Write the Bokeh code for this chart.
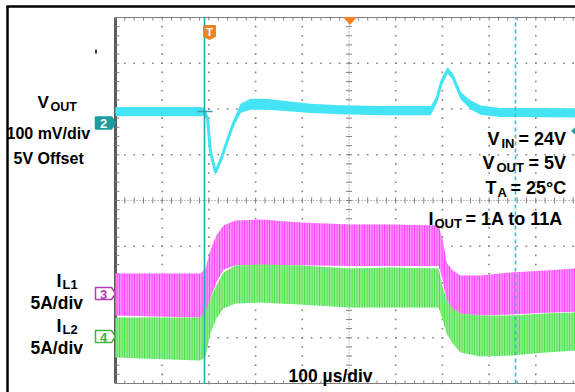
import numpy as np
from bokeh.plotting import figure
from bokeh.models import Range1d, Label
from bokeh.embed import file_html
from bokeh.resources import INLINE

# ---------------- data ----------------
# time axis: microseconds from the left edge of the screen (100 us/div)
vout_t = [0, 75, 150, 182, 190, 197, 203, 214, 225, 236, 251, 268, 289, 321, 364, 418,
          482, 567, 675, 687, 698, 711, 722, 739, 760, 782, 824, 985, 1000]
# V_OUT deviation from the 5 V offset (channel 2, 100 mV/div), mV
vout_mv = [25, 25, 25, 25, 25, 10, -60, -108, -82, -49, -5, 32, 41, 41, 37, 32,
           29, 27, 27, 49, 89, 115, 102, 60, 40, 28, 23, 22, 22]
# half width of the noise band, mV
vout_noise = [10, 10, 10, 10, 9, 7, 6, 6, 6, 6, 7, 10, 12, 12, 11, 10,
              10, 10, 10, 8, 7, 7, 7, 8, 10, 10, 10, 10, 10]

# inductor currents (5 A/div): upper / lower edge of the ripple band, A
il1_t = [0, 182, 193, 203, 216, 231, 257, 310, 396, 503, 589, 692, 700, 709, 722,
         739, 782, 846, 921, 985, 1000]
il1_hi = [2.19, 2.19, 2.73, 4.70, 6.34, 7.43, 7.98, 8.09, 7.76, 7.54, 7.54, 7.43, 6.01,
          3.39, 2.51, 1.97, 1.97, 2.30, 2.51, 2.73, 2.73]
il1_lo = [-2.40, -2.62, -2.40, -0.55, 1.20, 2.60, 3.10, 3.10, 3.10, 3.00, 3.00, 3.00,
          1.60, -0.75, -1.75, -2.20, -2.40, -2.30, -2.10, -2.00, -2.00]

il2_t = il1_t
il2_hi = [2.08, 2.08, 2.84, 4.15, 5.57, 6.99, 7.76, 7.87, 7.76, 7.43, 7.54, 7.43, 5.57,
          3.93, 3.06, 2.51, 2.30, 2.30, 2.51, 2.62, 2.62]
il2_lo = [-2.30, -2.62, -2.19, 0.33, 1.97, 3.06, 3.61, 3.72, 3.50, 3.17, 3.17, 3.17,
          1.97, 0.33, -0.77, -1.75, -2.19, -2.08, -1.75, -1.53, -1.53]

# scope settings
time_per_div = 100      # us
v_per_div = 100         # mV
i_per_div = 5           # A
n_xdiv, n_ydiv = 10, 8
trigger_t = 190.6       # us, solid cursor
cursor2_t = 856.5       # us, dashed cursor

# ---------------- layout (reference pixels) ----------------
GX0, GY0, GY1 = 115.0, 17.0, 383.0
PXDX = 46.7
PXDY = (GY1 - GY0) / n_ydiv
OFF = 0
W, H = 575, 392


def tx(X):
    return (X - GX0) / PXDX * time_per_div


def dy(Y):
    return (GY1 - Y) / PXDY


ch2_Y, ch3_Y, ch4_Y = 122.5, 293.0, 336.0
mv_px = v_per_div / PXDY
a_px = i_per_div / PXDY

p = figure(width=W, height=H, output_backend="svg", toolbar_location=None,
           x_range=Range1d(tx(OFF), tx(OFF + W)),
           y_range=Range1d(dy(OFF + H), dy(OFF)), min_border=0)
p.axis.visible = False
p.grid.visible = False
p.outline_line_color = None
p.background_fill_color = "white"
p.border_fill_color = "white"
p.extra_y_ranges = {
    "v": Range1d((ch2_Y - (OFF + H)) * mv_px, (ch2_Y - OFF) * mv_px),
    "il1": Range1d((ch3_Y - (OFF + H)) * a_px, (ch3_Y - OFF) * a_px),
    "il2": Range1d((ch4_Y - (OFF + H)) * a_px, (ch4_Y - OFF) * a_px),
}

GRID = "#808080"
tx_step = time_per_div / 5
# dotted grid lines
gx, gy = [], []
for k in range(1, n_xdiv + 1):
    if k == 5:
        continue
    for j in range(0, n_ydiv * 5 + 1):
        gx.append(k * time_per_div)
        gy.append(j * 0.2)
for k in range(1, n_ydiv):
    if k == 4:
        continue
    for j in range(0, n_xdiv * 5 + 1):
        gx.append(j * tx_step)
        gy.append(k)
p.scatter(gx, gy, marker="square", size=1.6, fill_color=GRID, line_color=None)

# center lines (dense dots + ticks)
cx_t = 5 * time_per_div
p.segment(x0=[0], y0=[4], x1=[n_xdiv * time_per_div], y1=[4], line_color=GRID,
          line_width=1, line_dash="1 2")
p.segment(x0=[cx_t], y0=[0], x1=[cx_t], y1=[n_ydiv], line_color=GRID,
          line_width=1, line_dash="1 2")
tick_h = 3 / PXDY
tick_w = 3 / PXDX * time_per_div
xs = [j * tx_step for j in range(n_xdiv * 5 + 1)]
ys = [j * 0.2 for j in range(n_ydiv * 5 + 1)]
p.segment(x0=xs, y0=[4 - tick_h] * len(xs), x1=xs, y1=[4 + tick_h] * len(xs),
          line_color=GRID, line_width=1)
p.segment(x0=[cx_t - tick_w] * len(ys), y0=ys, x1=[cx_t + tick_w] * len(ys), y1=ys,
          line_color=GRID, line_width=1)
# border with ticks
p.segment(x0=[0], y0=[0], x1=[0], y1=[n_ydiv], line_color="#5a5a5a", line_width=3)
p.segment(x0=[0], y0=[n_ydiv], x1=[1000], y1=[n_ydiv], line_color=GRID, line_width=1.2)
p.segment(x0=[0], y0=[0], x1=[1000], y1=[0], line_color=GRID, line_width=1.2)
p.segment(x0=[0] * len(ys), y0=ys, x1=[tick_w * 1.3] * len(ys), y1=ys,
          line_color=GRID, line_width=1)
p.segment(x0=xs, y0=[n_ydiv] * len(xs), x1=xs, y1=[n_ydiv - tick_h] * len(xs),
          line_color=GRID, line_width=1)
p.segment(x0=xs, y0=[0] * len(xs), x1=xs, y1=[tick_h] * len(xs),
          line_color=GRID, line_width=1)

# ---------------- traces ----------------
p.varea(x=np.array(il1_t, dtype=float), y1=il1_lo, y2=il1_hi, y_range_name="il1",
        fill_color="#FF8EFF", hatch_pattern="vertical_line", hatch_color="#FF30FF",
        hatch_scale=2.5, hatch_weight=1)
p.varea(x=np.array(il2_t, dtype=float), y1=il2_lo, y2=il2_hi, y_range_name="il2",
        fill_color="#90EE90", hatch_pattern="vertical_line", hatch_color="#3ADC3A",
        hatch_scale=2.5, hatch_weight=1)

vt = np.array(vout_t, dtype=float)
vm = np.array(vout_mv, dtype=float)
vn = np.array(vout_noise, dtype=float)
p.varea(x=vt, y1=vm - vn, y2=vm + vn, y_range_name="v", fill_color="#45E4F4")
p.line(vt, vm, y_range_name="v", line_color="#45E4F4", line_width=3)

# cursors
p.segment(x0=[trigger_t], y0=[0], x1=[trigger_t], y1=[n_ydiv], line_color="#1EAAB4",
          line_width=1.6)
p.segment(x0=[cursor2_t], y0=[0], x1=[cursor2_t], y1=[n_ydiv], line_color="#3EBFCB",
          line_width=1.6, line_dash="4 3")
# trigger level marker
p.segment(x0=[tx(197)], y0=[vout_mv[0]], x1=[tx(212)], y1=[vout_mv[0]],
          y_range_name="v", line_color="#3AA0A8", line_width=1.5)

# outer frame (top & left)
p.segment(x0=[tx(6)], y0=[dy(6)], x1=[tx(W)], y1=[dy(6)], line_color="black",
          line_width=2.5)
p.segment(x0=[tx(7)], y0=[dy(6)], x1=[tx(7)], y1=[dy(H)], line_color="black",
          line_width=2.5)
p.segment(x0=[tx(95.5)], y0=[dy(49)], x1=[tx(95.5)], y1=[dy(53)], line_color="black",
          line_width=1.5)
# right-edge channel 2 arrow
p.patch([tx(571), tx(575), tx(575)], [dy(130.5), dy(127), dy(134)],
        fill_color="#1C9C9C", line_color="#1C9C9C")

# channel markers
def ch_marker(Yc, fill, line, txt, txtcol):
    xsP = [tx(95), tx(111), tx(115), tx(111), tx(95)]
    ysP = [dy(Yc - 6), dy(Yc - 6), dy(Yc), dy(Yc + 6), dy(Yc + 6)]
    p.patch(xsP, ysP, fill_color=fill, line_color=line, line_width=1.5)
    p.add_layout(Label(x=tx(103), y=dy(Yc + 0.5), text=txt, text_color=txtcol,
                       text_font="Liberation Sans", text_font_style="bold",
                       text_font_size="13px", text_align="center",
                       text_baseline="middle"))


ch_marker(ch2_Y, "#1C9C9C", "#1C9C9C", "2", "white")
ch_marker(ch3_Y, "white", "#B13DB5", "3", "#B13DB5")
ch_marker(ch4_Y, "white", "#3DB23D", "4", "#3DB23D")

# trigger "T" marker and trigger-position triangle
p.patch([tx(203), tx(215), tx(215), tx(209), tx(203)],
        [dy(25), dy(25), dy(36), dy(39), dy(36)],
        fill_color="#F28322", line_color="#F28322", line_width=1)
p.add_layout(Label(x=tx(209), y=dy(31), text="T", text_color="white",
                   text_font="Liberation Sans", text_font_style="bold",
                   text_font_size="11px", text_align="center", text_baseline="middle"))
p.patch([tx(343.5), tx(355.5), tx(349.5)], [dy(17), dy(17), dy(24)],
        fill_color="#F28322", line_color="#F28322")


def lab(text, X, Y, size):
    p.add_layout(Label(x=tx(X), y=dy(Y), text=text, text_color="black",
                       text_font="Liberation Sans", text_font_style="bold",
                       text_font_size=size, text_align="left",
                       text_baseline="alphabetic"))


BIG, SUB = "18px", "13px"
lab("V", 37, 102, "17px")
lab("OUT", 50, 106, "12.5px")
lab("100 mV/div", 6, 133, "16px")
lab("5V Offset", 13, 158, "16px")
lab("I", 56, 280, BIG)
lab("L1", 62, 284, SUB)
lab("5A/div", 30, 302, "17.5px")
lab("I", 56, 325, BIG)
lab("L2", 62, 329, SUB)
lab("5A/div", 30, 347, "17.5px")

lab("V", 487, 138, BIG)
lab("IN", 501, 143, SUB)
lab("= 24V", 518, 138, BIG)
lab("V", 482, 162, BIG)
lab("OUT", 496, 167, SUB)
lab("= 5V", 528, 162, BIG)
lab("T", 485, 187, BIG)
lab("A", 497, 192, SUB)
lab("= 25°C", 510, 187, BIG)
lab("I", 428, 218, BIG)
lab("OUT", 434, 223, SUB)
lab("= 1A to 11A", 465, 218, BIG)
lab("100 µs/div", 288, 375, "17.5px")

open("out.html", "w").write(file_html(p, INLINE))
